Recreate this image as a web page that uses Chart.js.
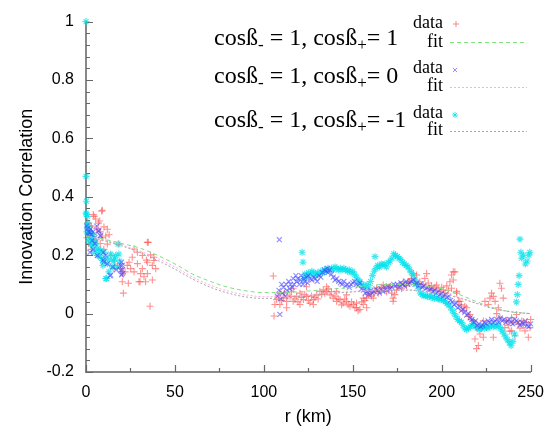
<!DOCTYPE html>
<html>
<head>
<meta charset="utf-8">
<script src="https://cdn.jsdelivr.net/npm/chart.js@4/dist/chart.umd.min.js"></script>
<style>
  body { margin: 0; background: #fff; }
  #wrap { position: relative; width: 555px; height: 429px; }
  .key { position: absolute; font-family: "Liberation Serif", serif; color: #000; white-space: nowrap; line-height: 1; }
  .big { font-size: 24px; left: 214px; }
  .small { font-size: 18px; right: 112px; text-align: right; }
  .sb { font-size: 17px; position: relative; top: 5px; }
</style>
</head>
<body>
<div id="wrap">
  <canvas id="chart"></canvas>
  <div class="key big" style="top:25px">cosß<span class="sb">-</span> = 1, cosß<span class="sb">+</span>= 1</div>
  <div class="key big" style="top:63px">cosß<span class="sb">-</span> = 1, cosß<span class="sb">+</span>= 0</div>
  <div class="key big" style="top:107px">cosß<span class="sb">-</span> = 1, cosß<span class="sb">+</span>= -1</div>
  <div class="key small" style="top:13px">data</div>
  <div class="key small" style="top:32px">fit</div>
  <div class="key small" style="top:58px">data</div>
  <div class="key small" style="top:76px">fit</div>
  <div class="key small" style="top:103px">data</div>
  <div class="key small" style="top:120px">fit</div>
</div>
<script>
const $ = (id) => document.getElementById(id);

// axis ticks
const xTickVals = [0, 50, 100, 150, 200, 250];
const xTickLabels = ['0', '50', '100', '150', '200', '250'];
const yTickVals = [-0.2, 0, 0.2, 0.4, 0.6, 0.8, 1];
const yTickLabels = ['-0.2', '0', '0.2', '0.4', '0.6', '0.8', '1'];

// fit curves, sampled every 10 km
const fitR = [0,10,20,30,40,50,60,70,80,90,100,110,120,130,140,150,160,170,180,190,200,210,220,230,240,250];
const fitPlus1 = [0.265,0.255,0.24,0.225,0.2,0.17,0.135,0.11,0.09,0.078,0.072,0.072,0.075,0.08,0.085,0.09,0.097,0.1,0.1,0.095,0.085,0.065,0.04,0.018,0.005,0.0];
const fitZero = [0.265,0.252,0.235,0.215,0.19,0.16,0.125,0.097,0.077,0.064,0.058,0.058,0.062,0.067,0.072,0.076,0.08,0.082,0.082,0.078,0.07,0.055,0.035,0.017,0.006,0.0];
const fitMinus1 = [0.265,0.25,0.232,0.21,0.183,0.152,0.118,0.09,0.07,0.057,0.052,0.053,0.058,0.064,0.07,0.074,0.078,0.08,0.08,0.076,0.068,0.053,0.034,0.016,0.005,0.0];

// cosB+ = 1 data [r, corr]
const dataPlus1 = [
  [0.5,0.26],[1,0.31],[1.5,0.24],[2,0.28],[2.2,0.3],[3,0.3],[3,0.22],[4,0.27],[4.1,0.339],[4.5,0.333],[5,0.25],[5.4,0.324],
  [6,0.29],[7,0.31],[7.7,0.317],[8,0.28],[8,0.24],[8.8,0.351],[9,0.26],[9.2,0.354],[10,0.22],[10.1,0.297],[11.1,0.266],
  [12,0.289],[12,0.238],[13,0.27],[14,0.2],[15.7,0.154],[16,0.18],[17.6,0.165],[18.5,0.238],[19.5,0.154],[20.4,0.137],
  [20.4,0.109],[21,0.07],[22,0.143],[23.2,0.165],[23.8,0.104],[24.2,0.176],[25.1,0.154],[26,0.193],[27,0.221],[27,0.143],
  [28.9,0.21],[28.9,0.171],[29.8,0.109],[30.4,0.109],[30.7,0.137],[31.7,0.199],[31.7,0.154],[32.6,0.126],[33.5,0.109],
  [34,0.183],[34.5,0.244],[34.5,0.176],[34.5,0.137],[35,0.244],[36,0.025],[36.3,0.201],[37.3,0.165],[37.3,0.115],
  [38.2,0.193],[38.2,0.182],[39.2,0.154],
  [105.3,0.129],[105.7,-0.008],[106.2,0.031],[107.2,0.048],[108,0.06],[109,0.07],[109,0.031],[110,0.045],[110.9,0.053],
  [111.5,0.07],[112.8,0.042],[112.8,0.02],[113.5,0.06],[114.7,0.059],[115.5,0.075],[116.5,0.042],[116.5,0.087],[117.5,0.05],
  [118.4,0.059],[119.2,0.04],[120.3,0.07],[120.3,0.031],[121,0.055],[122.2,0.048],[123,0.065],[124,0.059],[124,0.092],
  [125,0.045],[125.9,0.036],[126.8,0.06],[127.8,0.048],[127.8,0.031],[128.7,0.055],[129.7,0.064],[130.5,0.05],[131.5,0.076],
  [132.5,0.065],[133.4,0.081],[134.3,0.07],[135.3,0.076],[135.3,0.092],[136.2,0.085],[137.2,0.064],[138,0.075],[139,0.053],
  [140,0.06],[140.9,0.042],[140.9,0.076],[141.8,0.05],[142.8,0.048],[143.7,0.03],[144.6,0.036],[145.5,0.05],[146.5,0.042],
  [146.5,0.064],[147.4,0.03],[148.4,0.025],[149.3,0.04],[150.3,0.031],[151.2,0.02],[152.1,0.02],[152.1,0.036],[153,0.01],
  [154,0.014],[155,0.04],[155.9,0.031],[155.9,0.053],[156.8,0.045],[157.8,0.053],[157.8,0.02],[158.7,0.065],[159.6,0.07],
  [160.5,0.06],[161.5,0.053],[162.4,0.075],[163.4,0.087],[164.3,0.07],[165.2,0.08],[166,0.09],[167.1,0.098],[168,0.085],
  [169,0.075],[170,0.09],[170.9,0.092],[171.8,0.07],[172.7,0.053],[172.7,0.042],[173.6,0.065],[174.6,0.081],[175.5,0.09],
  [176.5,0.098],[177.4,0.085],[178.4,0.109],[179.3,0.1],[180.2,0.095],[181.1,0.11],[182,0.105],[183,0.12],[184,0.137],
  [184.9,0.115],[185.9,0.132],[186.8,0.1],[187.7,0.109],[188.6,0.095],[189.6,0.1],[190.5,0.12],[191.5,0.137],[192.4,0.105],
  [193.4,0.087],[194.3,0.095],[195.2,0.08],[196.2,0.09],[197.1,0.098],[198,0.085],[199,0.075],[200,0.09],[200.9,0.081],
  [201.8,0.07],[202.8,0.095],[203.7,0.08],[204.6,0.109],[205.5,0.132],[205.5,0.087],[206.5,0.143],[206.5,0.115],[207.4,0.143],
  [208.4,0.076],[208.4,0.07],[209.3,0.042],[210.2,0.042],[211,0.03],[212,0.01],[213,0.025],[214,0.02],[215,-0.01],
  [215.9,-0.003],[216.8,-0.02],[217.7,-0.025],[218.7,-0.087],[219.6,-0.048],[219.6,-0.12],[220.6,-0.109],[221.5,-0.07],
  [222.4,-0.05],[223.4,-0.025],[223.4,-0.081],[224.3,0.042],[225.2,-0.048],[226.2,0.031],[227.1,0.053],[228,0.07],[229,0.059],
  [229,-0.081],[230,0.042],[230.9,0.0],[231.8,0.02],[232.7,0.104],[232.7,-0.014],[233.6,0.087],[234.6,0.053],[235.5,-0.048],
  [236.5,-0.025],[237.4,-0.04],[238.3,-0.06],[239.3,-0.059],[239.3,-0.014],[240.2,-0.03],[241.2,-0.076],[242.1,-0.003],
  [243,-0.036],[244,-0.05],[245,-0.025],[245.9,-0.04],[246.8,-0.059],[247.7,-0.03],[248.7,-0.081],[249.6,-0.048],[250,-0.02]
];

// cosB+ = 0 data
const dataZero = [
  [0.3,0.3],[0.8,0.29],[1,0.27],[1.5,0.28],[2.2,0.277],[2.2,0.21],[2.6,0.289],[3,0.27],[3.5,0.25],[4,0.28],[4,0.22],[5,0.26],
  [5,0.24],[6,0.3],[6.4,0.199],[6.9,0.283],[7.3,0.283],[7.9,0.267],[8.3,0.266],[9.7,0.21],[9.7,0.183],[10.1,0.176],[11,0.2],
  [12,0.17],[13.5,0.129],[13.9,0.132],[15,0.16],[17,0.15],[19.5,0.165],[19.5,0.149],[20,0.176],[20,0.133],[20.4,0.165],
  [20.4,0.137],[20.5,0.15],
  [107.5,0.06],[108.5,0.08],[108.7,0.253],[109,-0.003],[109.5,0.05],[110,0.1],[110.5,0.07],[111,0.09],[112,0.06],[112.5,0.1],
  [113,0.08],[114,0.11],[114.5,0.085],[115,0.1],[116,0.09],[116.5,0.12],[117,0.1],[118,0.13],[118.5,0.11],[119,0.12],[120,0.1],
  [120.5,0.115],[121,0.13],[122,0.1],[122.5,0.12],[123,0.11],[124,0.125],[124.5,0.105],[125,0.13],[126,0.12],[127,0.115],
  [128,0.125],[129,0.12],[130,0.11],[131,0.13],[132,0.125],[133,0.14],[134,0.15],[135,0.145],[135.5,0.155],[136,0.14],
  [137,0.15],[138,0.135],[139,0.125],[140,0.115],[141,0.12],[142,0.11],[143,0.105],[144,0.1],[145,0.11],[146,0.095],[147,0.1],
  [148,0.09],[149,0.1],[150,0.105],[151,0.11],[152,0.1],[153,0.095],[154,0.105],[155,0.085],[156,0.08],[157,0.07],[158,0.075],
  [159,0.065],[160,0.08],[161,0.07],[162,0.075],[163,0.085],[164,0.08],[165,0.07],[166,0.085],[167,0.075],[168,0.09],[169,0.08],
  [170,0.095],[171,0.085],[172,0.09],[173,0.1],[174,0.095],[175,0.1],[176,0.09],[177,0.105],[178,0.1],[179,0.095],[180,0.11],
  [181,0.1],[182,0.105],[183,0.11],[184,0.115],[185,0.1],[186,0.105],[187,0.095],[188,0.1],[189,0.09],[190,0.095],[191,0.085],
  [192,0.09],[193,0.08],[194,0.085],[195,0.075],[196,0.08],[197,0.07],[198,0.075],[199,0.065],[200,0.07],[201,0.06],[202,0.065],
  [203,0.055],[204,0.06],[205,0.045],[206,0.04],[207,0.03],[208,0.035],[209,0.02],[210,0.025],[211,0.01],[212,0.015],[213,0.005],
  [214,-0.005],[215,0.0],[216,-0.015],[217,-0.02],[218,-0.03],[219,-0.025],[220,-0.04],[221,-0.035],[222,-0.045],[223,-0.04],
  [224,-0.03],[225,-0.035],[226,-0.025],[227,-0.03],[228,-0.02],[229,-0.03],[230,-0.025],[231,-0.02],[232,-0.03],[233,-0.015],
  [234,-0.025],[235,-0.02],[236,-0.03],[237,-0.025],[238,-0.02],[239,-0.03],[240,-0.035],[241,-0.02],[242,-0.025],[243,-0.03],
  [244,-0.04],[245,-0.03],[246,-0.035],[247,-0.025],[248,-0.04],[249,-0.045],[250,-0.035]
];

// cosB+ = -1 data
const dataMinus1 = [
  [0,1.0],[0,0.47],[0.2,0.385],[0.3,0.34],[0,0.344],[0.5,0.28],[0.75,0.333],[0.75,0.3],[1,0.31],[1.2,0.29],[1.5,0.25],
  [1.7,0.266],[2,0.28],[2.5,0.24],[2.6,0.277],[3,0.26],[3.6,0.255],[3.6,0.232],[4,0.27],[4.5,0.21],[5,0.245],[5.4,0.238],
  [6,0.22],[6.4,0.199],[7,0.2],[7.3,0.221],[8,0.215],[8.3,0.193],[9.2,0.182],[9.5,0.165],[10.1,0.21],[11,0.19],[11.1,0.12],
  [11.6,0.12],[12,0.171],[12.9,0.143],[13,0.185],[13.9,0.204],[14.8,0.16],[15.5,0.18],[16,0.19],[16.7,0.199],[17.6,0.16],
  [18,0.238],[18.5,0.204],[19,0.18],
  [121.5,0.21],[122,0.176],[122.5,0.12],[123,0.135],[124,0.13],[125,0.14],[126,0.135],[127,0.145],[128,0.14],[129,0.13],
  [130,0.14],[131,0.135],[132,0.145],[133,0.14],[134,0.15],[135,0.145],[136,0.155],[137,0.15],[138,0.155],[139,0.15],[140,0.16],
  [141,0.155],[142,0.15],[143,0.155],[144,0.15],[145,0.155],[146,0.15],[147,0.145],[148,0.15],[149,0.14],[150,0.145],[151,0.135],
  [152,0.125],[153,0.115],[154,0.11],[155,0.1],[156,0.095],[157,0.09],[158,0.1],[159,0.09],[160,0.11],[161,0.13],[162,0.145],
  [162.5,0.195],[163,0.155],[164,0.165],[165,0.16],[166,0.17],[167,0.165],[168,0.17],[169,0.16],[170,0.175],[171,0.18],[172,0.19],
  [173,0.205],[174,0.2],[175,0.195],[176,0.19],[177,0.185],[178,0.175],[179,0.17],[180,0.165],[181,0.16],[182,0.15],[183,0.14],
  [184,0.13],[185,0.115],[186,0.1],[187,0.085],[188,0.07],[189,0.065],[190,0.06],[191,0.062],[192,0.058],[193,0.06],[194,0.055],
  [195,0.058],[196,0.052],[197,0.055],[198,0.05],[199,0.048],[200,0.05],[201,0.045],[202,0.04],[203,0.035],[204,0.03],[205,0.02],
  [206,0.01],[207,0.0],[208,-0.01],[209,-0.02],[210,-0.025],[211,-0.03],[212,-0.04],[213,-0.05],[214,-0.055],[215,-0.05],
  [216,-0.045],[217,-0.04],[218,-0.035],[219,-0.045],[220,-0.05],[221,-0.055],[222,-0.05],[223,-0.045],[224,-0.05],[225,-0.045],
  [226,-0.05],[227,-0.045],[228,-0.04],[229,-0.045],[230,-0.04],[231,-0.045],[232,-0.04],[233,-0.05],[234,-0.06],[235,-0.07],
  [236,-0.08],[237,-0.09],[238,-0.1],[239,-0.11],[240,-0.095],[241,-0.07],[242,0.04],[242.5,0.065],[243,0.1],[243.5,0.13],
  [244,0.255],[244.5,0.21],[245,0.19],[246,0.2],[247,0.17],[248,0.18],[249,0.2],[249.5,0.21]
];

const RED = 'rgba(255,70,70,0.6)', BLUE = 'rgba(70,70,255,0.6)', CYAN = 'rgba(0,225,235,0.75)';
const GREEN = '#7ee07e', PINK = '#ffaaee', GREY = '#aaaaaa';

const toPts = (arr) => arr.map(([x, y]) => ({ x, y }));
const fitPts = (vals) => fitR.map((x, i) => ({ x, y: vals[i] }));

function scatterSet(data, color, style, order) {
    return { type: 'scatter', data: toPts(data), pointStyle: style, pointRadius: 3.5, pointBorderWidth: 1.1,
        borderColor: color, backgroundColor: color, showLine: false, clip: false, order };
}
function fitSet(vals, color, dash, order) {
    return { type: 'line', data: fitPts(vals), borderColor: color, borderWidth: 1, borderDash: dash,
        pointRadius: 0, fill: false, cubicInterpolationMode: 'monotone', order };
}

// ticks pointing into the plot, majors and minors
const inwardTicks = {
    id: 'inwardTicks',
    beforeDatasetsDraw(chart) {
        const { ctx, chartArea: a, scales: { x, y } } = chart;
        ctx.save();
        ctx.strokeStyle = '#666';
        ctx.lineWidth = 1.2;
        ctx.beginPath();
        yTickVals.forEach((v, i) => {
            const p = Math.round(y.getPixelForValue(v)) + 0.5;
            ctx.moveTo(a.left, p); ctx.lineTo(a.left + 7, p);
            if (i < yTickVals.length - 1) {
                for (let k = 1; k < 5; k++) {
                    const m = Math.round(y.getPixelForValue(v + (yTickVals[i + 1] - v) * k / 5)) + 0.5;
                    ctx.moveTo(a.left, m); ctx.lineTo(a.left + 4, m);
                }
            }
        });
        xTickVals.forEach((v, i) => {
            const p = Math.round(x.getPixelForValue(v)) + 0.5;
            ctx.moveTo(p, a.bottom); ctx.lineTo(p, a.bottom - 7);
            if (i < xTickVals.length - 1) {
                const m = Math.round(x.getPixelForValue((v + xTickVals[i + 1]) / 2)) + 0.5;
                ctx.moveTo(m, a.bottom); ctx.lineTo(m, a.bottom - 4);
            }
        });
        ctx.stroke();
        ctx.restore();
    },
    afterDraw(chart) {
        // key samples
        const { ctx } = chart;
        const pt = (style, color, px, py) => {
            ctx.strokeStyle = color; ctx.fillStyle = color; ctx.lineWidth = 1;
            Chart.helpers.drawPoint(ctx, { pointStyle: style, radius: 3, borderWidth: 1 }, px, py);
        };
        const ln = (color, dash, py) => {
            ctx.save(); ctx.strokeStyle = color; ctx.lineWidth = 1; ctx.setLineDash(dash);
            ctx.beginPath(); ctx.moveTo(450, py); ctx.lineTo(527, py); ctx.stroke(); ctx.restore();
        };
        ctx.save();
        pt('cross', RED, 456, 24); ln(GREEN, [4, 3], 42.5);
        pt('crossRot', BLUE, 455, 70); ln(PINK, [2, 2], 87.5);
        pt('star', CYAN, 455, 115); ln(GREY, [2, 2], 131.5);
        ctx.restore();
    }
};

const tickFont = { family: '"Liberation Sans", Arial, sans-serif', size: 16 };
const titleFont = { family: '"Liberation Sans", Arial, sans-serif', size: 18 };

new Chart($('chart'), {
    data: {
        datasets: [
            scatterSet(dataPlus1, RED, 'cross', 6),
            fitSet(fitPlus1, GREEN, [4, 3], 1),
            scatterSet(dataZero, BLUE, 'crossRot', 3),
            fitSet(fitZero, PINK, [2, 2], 1),
            scatterSet(dataMinus1, CYAN, 'star', 4),
            fitSet(fitMinus1, GREY, [2, 2], 0)
        ]
    },
    options: {
        responsive: true,
        maintainAspectRatio: false,
        animation: false,
        layout: { padding: { top: 15, right: 24, left: 0, bottom: 0 } },
        plugins: { legend: { display: false }, tooltip: { enabled: false } },
        scales: {
            x: {
                type: 'linear', min: 0, max: 250,
                afterBuildTicks: (s) => { s.ticks = xTickVals.map(v => ({ value: v })); },
                afterFit: (s) => { s.height = 57; },
                grid: { display: false, drawTicks: false },
                border: { display: true, color: '#888', width: 2 },
                ticks: { color: '#000', font: tickFont, padding: 11, maxRotation: 0, callback: (v, i) => xTickLabels[i] },
                title: { display: true, text: 'r (km)', color: '#000', font: titleFont, padding: { top: 0, bottom: 1 } }
            },
            y: {
                type: 'linear', min: -0.2, max: 1,
                afterBuildTicks: (s) => { s.ticks = yTickVals.map(v => ({ value: v })); },
                afterFit: (s) => { s.width = 86; },
                grid: { display: false, drawTicks: false },
                border: { display: true, color: '#888', width: 2 },
                ticks: { color: '#000', font: tickFont, padding: 12, callback: (v, i) => yTickLabels[i] },
                title: { display: true, text: 'Innovation Correlation', color: '#000', font: titleFont, padding: { top: 16, bottom: 0 } }
            }
        }
    },
    plugins: [inwardTicks]
});
</script>
</body>
</html>
